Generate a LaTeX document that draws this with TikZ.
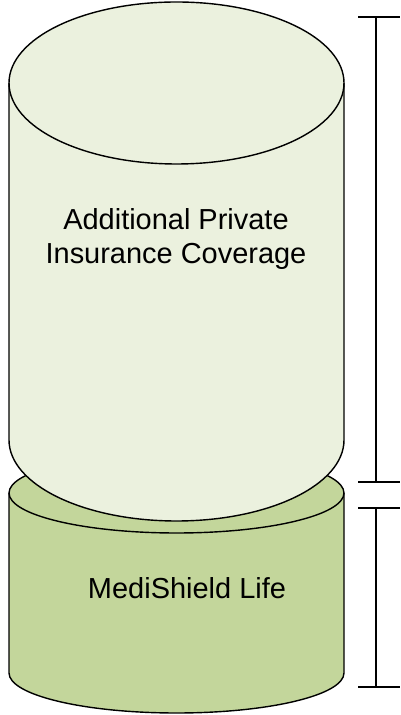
\documentclass[tikz,border=0pt]{standalone}
\usepackage{fontspec}
\setmainfont{Liberation Sans}
\definecolor{paleolive}{HTML}{EBF1DE}
\definecolor{olive}{HTML}{C3D69B}
% cylinder: centre x, y of top ellipse, y of bottom ellipse, x radius, y radius, fill
\newcommand{\cylinder}[6]{%
    \filldraw[fill=#6] (#1-#4,#2) -- (#1-#4,#3) arc (180:360:#4 and #5)
        -- (#1+#4,#2) arc (0:180:#4 and #5) -- cycle;
    \draw (#1-#4,#2) arc (180:360:#4 and #5);
}

\begin{document}
\begin{tikzpicture}[
        x=0.25mm, y=0.25mm, line width=1pt,
        label/.style={align=center, font=\fontsize{20.6}{24.2}\selectfont},
    ]
    \useasboundingbox (0,0) rectangle (400,715);

    % Bottom layer
    \cylinder{176.5}{222}{42}{167.5}{40}{olive}
    \node[label] (msl) at (187,126.5) {MediShield Life};

    % Top layer
    \cylinder{176.5}{632}{275}{167.5}{81}{paleolive}
    \node[label] (priv) at (176,475.5) {Additional Private\\Insurance Coverage};

    % Brackets
    \def\B{376} % x of the bracket spine
    \foreach \t/\b in {698/233, 207/28} {
        \draw (358,\t) -- (400,\t);
        \draw (358,\b) -- (400,\b);
        \draw (\B,\t) -- (\B,\b);
    }
\end{tikzpicture}
\end{document}
